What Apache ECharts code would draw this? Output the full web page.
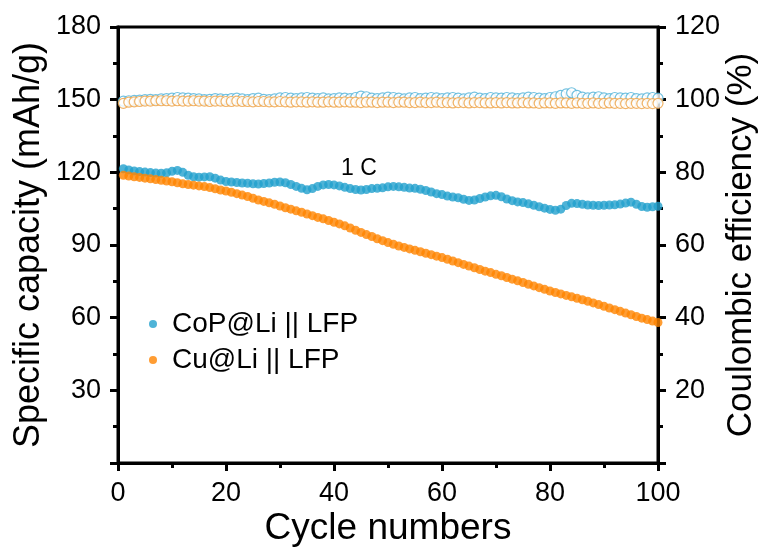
<!DOCTYPE html>
<html>
<head>
<meta charset="utf-8">
<script src="https://cdn.jsdelivr.net/npm/echarts@6/dist/echarts.min.js"></script>
<style>html,body{margin:0;padding:0;background:#fff;}#c{width:759px;height:550px;}</style>
</head>
<body>
<div id="c"></div>
<script>
const cycles = Array.from({length: 100}, (_, i) => i + 1);
const xTicks = [0, 20, 40, 60, 80, 100];
const leftTicks = [30, 60, 90, 120, 150, 180];
const rightTicks = [20, 40, 60, 80, 100, 120];

const capCoP = [121.5,121.0,120.6,120.3,120.1,119.9,119.7,119.6,119.8,120.4,
120.8,120.0,118.8,118.2,118.0,118.1,118.2,117.6,116.8,116.2,
116.0,115.8,115.6,115.5,115.3,115.2,115.4,115.6,115.9,116.0,
115.7,115.0,114.2,113.4,112.8,113.3,114.2,114.8,115.0,114.8,
114.4,113.8,113.3,112.9,112.7,112.9,113.3,113.4,113.6,114.0,
114.2,114.0,113.8,113.5,113.4,113.0,112.5,111.9,111.2,110.8,
110.2,109.8,109.5,108.9,108.4,108.6,109.2,109.8,110.3,110.5,
109.9,109.0,108.3,107.8,107.5,107.0,106.4,105.8,105.2,104.7,
104.3,104.8,106.3,107.2,107.1,106.8,106.5,106.4,106.3,106.4,
106.5,106.6,106.9,107.3,107.7,106.8,105.9,105.6,105.8,106.0];

const capCu = [118.8,118.5,118.2,117.9,117.6,117.3,117.0,116.7,116.4,116.1,
115.7,115.3,115.0,114.7,114.4,114.1,113.7,113.2,112.7,112.3,
111.8,111.2,110.6,110.0,109.3,108.6,108.0,107.4,106.8,106.1,
105.4,104.8,104.1,103.5,102.8,102.1,101.4,100.8,100.1,99.4,
98.7,97.9,97.0,96.1,95.2,94.3,93.5,92.6,91.8,91.0,
90.3,89.6,89.0,88.4,87.8,87.2,86.6,86.0,85.4,84.8,
84.1,83.4,82.7,82.0,81.3,80.6,79.9,79.2,78.6,77.9,
77.3,76.6,75.9,75.2,74.5,73.8,73.1,72.4,71.7,71.0,
70.4,69.8,69.2,68.6,68.0,67.4,66.8,66.1,65.4,64.7,
64.0,63.3,62.6,61.9,61.2,60.5,59.8,59.2,58.6,58.0];

const ceCoP = [99.6,99.7,99.8,99.9,100.0,100.1,100.0,100.2,100.3,100.4,
100.6,100.5,100.4,100.3,100.2,100.0,100.1,100.3,100.2,100.1,
100.3,100.4,100.2,100.0,100.3,100.4,100.1,100.0,100.2,100.5,
100.6,100.4,100.3,100.5,100.6,100.4,100.3,100.5,100.2,100.3,
100.5,100.4,100.3,100.6,101.0,100.8,100.4,100.3,100.5,100.7,
100.6,100.4,100.2,100.5,100.6,100.3,100.4,100.6,100.5,100.3,
100.5,100.6,100.4,100.2,100.5,100.7,100.4,100.3,100.6,100.5,
100.4,100.6,100.5,100.3,100.5,100.7,100.6,100.4,100.3,100.6,
100.8,101.2,101.6,101.9,101.2,100.7,100.5,100.7,100.8,100.5,
100.3,100.6,100.5,100.4,100.6,100.3,100.2,100.5,100.6,100.4];

const ceCu = [99.0,99.3,99.4,99.5,99.6,99.6,99.7,99.7,99.7,99.6,
99.7,99.6,99.6,99.7,99.6,99.6,99.5,99.6,99.6,99.5,
99.5,99.6,99.5,99.5,99.4,99.5,99.5,99.4,99.4,99.5,
99.4,99.3,99.4,99.4,99.3,99.4,99.3,99.3,99.4,99.3,
99.3,99.4,99.3,99.3,99.2,99.3,99.3,99.2,99.3,99.3,
99.2,99.3,99.3,99.2,99.2,99.3,99.2,99.2,99.3,99.2,
99.2,99.1,99.2,99.2,99.1,99.2,99.2,99.1,99.1,99.2,
99.1,99.2,99.1,99.1,99.2,99.1,99.1,99.0,99.1,99.1,
99.0,99.1,99.1,99.0,99.1,99.0,99.0,99.1,99.0,99.0,
99.1,99.0,99.0,98.9,99.0,99.0,98.9,99.0,98.9,99.0];

const FONT = '"Liberation Sans", Arial, sans-serif';
const pair = (ys) => ys.map((v, i) => [cycles[i], v]);

const chart = echarts.init(document.getElementById('c'), null, {renderer: 'canvas'});
chart.setOption({
  animation: false,
  backgroundColor: '#fff',
  textStyle: {fontFamily: FONT, color: '#000'},
  grid: {left: 118, right: 101, top: 27, bottom: 87, outerBoundsMode: 'none', containLabel: false,
    show: true, borderColor: '#000', borderWidth: 3, backgroundColor: 'transparent'},
  xAxis: {
    type: 'value', min: 0, max: 100, interval: 20,
    name: 'Cycle numbers', nameLocation: 'middle', nameGap: 47, nameMoveOverlap: false,
    nameTextStyle: {fontSize: 37, fontFamily: FONT, color: '#000'},
    axisLine: {show: true, onZero: false, lineStyle: {color: '#000', width: 3}},
    axisTick: {show: true, length: 8, lineStyle: {color: '#000', width: 3}},
    minorTick: {show: true, splitNumber: 2, length: 5, lineStyle: {color: '#000', width: 3}},
    splitLine: {show: false},
    axisLabel: {fontSize: 27, color: '#000', fontFamily: FONT, margin: 17,
      formatter: v => xTicks.includes(v) ? String(v) : ''}
  },
  yAxis: [{
    type: 'value', min: 0, max: 180, interval: 30, position: 'left',
    name: 'Specific capacity (mAh/g)', nameLocation: 'middle', nameGap: 71, nameMoveOverlap: false,
    nameTextStyle: {fontSize: 36, fontFamily: FONT, color: '#000'},
    axisLine: {show: true, onZero: false, lineStyle: {color: '#000', width: 3}},
    axisTick: {show: true, length: 8, lineStyle: {color: '#000', width: 3}},
    minorTick: {show: true, splitNumber: 2, length: 5, lineStyle: {color: '#000', width: 3}},
    splitLine: {show: false},
    axisLabel: {fontSize: 27, color: '#000', fontFamily: FONT, margin: 17,
      formatter: v => leftTicks.includes(v) ? String(v) : ''}
  }, {
    type: 'value', min: 0, max: 120, interval: 20, position: 'right',
    name: 'Coulombic efficiency (%)', nameLocation: 'middle', nameGap: 66, nameMoveOverlap: false,
    nameTextStyle: {fontSize: 35, fontFamily: FONT, color: '#000'},
    axisLine: {show: true, onZero: false, lineStyle: {color: '#000', width: 3}},
    axisTick: {show: true, length: 8, lineStyle: {color: '#000', width: 3}},
    minorTick: {show: true, splitNumber: 2, length: 5, lineStyle: {color: '#000', width: 3}},
    splitLine: {show: false},
    axisLabel: {fontSize: 27, color: '#000', fontFamily: FONT, margin: 17,
      formatter: v => rightTicks.includes(v) ? String(v) : ''}
  }],
  legend: {
    orient: 'vertical', left: 144, top: 305, itemWidth: 8, itemHeight: 8, itemGap: 8,
    icon: 'circle',
    data: ['CoP@Li || LFP', 'Cu@Li || LFP'],
    textStyle: {fontSize: 28, color: '#000', fontFamily: FONT, lineHeight: 27, padding: [0, 0, 0, 10]}
  },
  graphic: [{
    type: 'text', left: 341, top: 157,
    style: {text: '1 C', fontSize: 23, fontFamily: FONT, fill: '#000'}
  }],
  series: [
    {name: 'CoP@Li || LFP CE', type: 'scatter', yAxisIndex: 1, data: pair(ceCoP),
      symbol: 'circle', symbolSize: 10,
      itemStyle: {color: '#fff', borderColor: '#4fb2d8', borderWidth: 1.2}},
    {name: 'Cu@Li || LFP CE', type: 'scatter', yAxisIndex: 1, data: pair(ceCu),
      symbol: 'circle', symbolSize: 10,
      itemStyle: {color: '#fff', borderColor: '#eea144', borderWidth: 1.2}},
    {name: 'CoP@Li || LFP', type: 'scatter', yAxisIndex: 0, data: pair(capCoP),
      symbol: 'circle', symbolSize: 9, itemStyle: {color: '#22a0cd'}},
    {name: 'Cu@Li || LFP', type: 'scatter', yAxisIndex: 0, data: pair(capCu),
      symbol: 'circle', symbolSize: 9, itemStyle: {color: '#ff8500'}}
  ]
});
</script>
</body>
</html>
